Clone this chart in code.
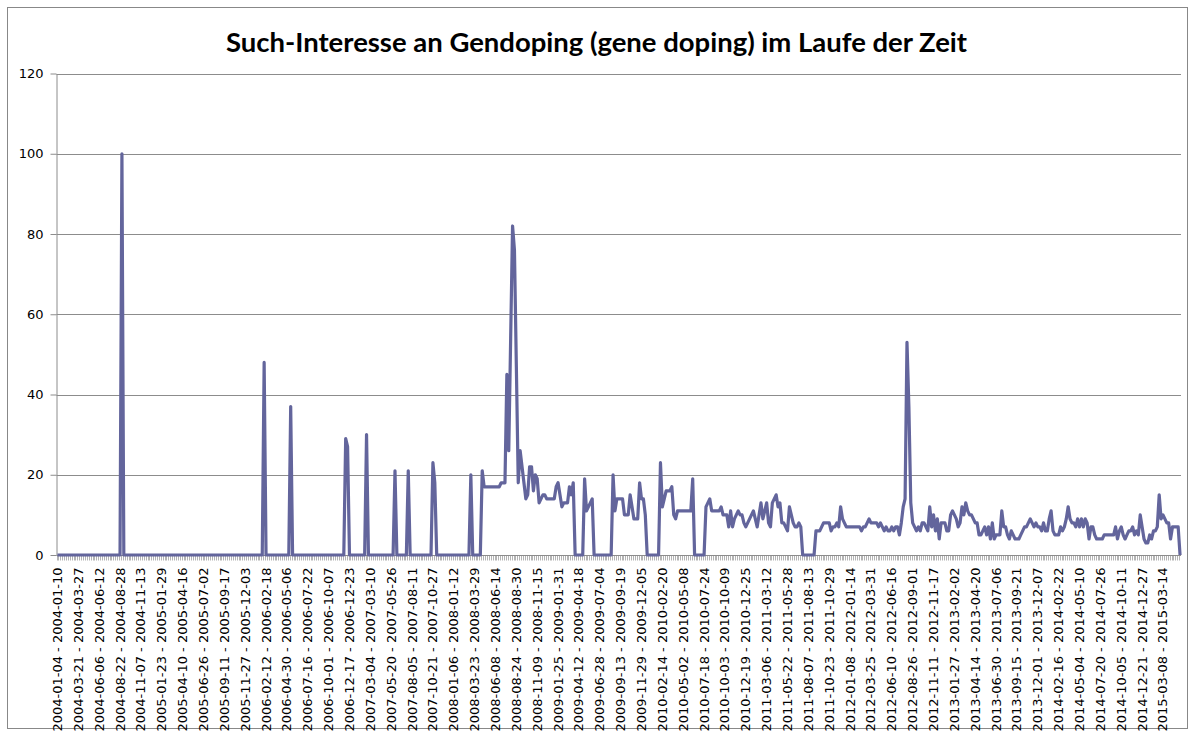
<!DOCTYPE html>
<html>
<head>
<meta charset="utf-8">
<script src="https://cdn.jsdelivr.net/npm/d3@7"></script>
<style>
	body { margin: 0; background: #fff; }
	svg { display: block; }
</style>
</head>
<body>
<div id="chart"></div>
<script>
const title = 'Such-Interesse an Gendoping (gene doping) im Laufe der Zeit'

// weekly search interest, first week starts 2004-01-04
const values = [
	0, 0, 0, 0, 0, 0, 0, 0, 0, 0,
	0, 0, 0, 0, 0, 0, 0, 0, 0, 0,
	0, 0, 0, 0, 0, 0, 0, 0, 0, 0,
	0, 0, 0, 0, 100, 0, 0, 0, 0, 0,
	0, 0, 0, 0, 0, 0, 0, 0, 0, 0,
	0, 0, 0, 0, 0, 0, 0, 0, 0, 0,
	0, 0, 0, 0, 0, 0, 0, 0, 0, 0,
	0, 0, 0, 0, 0, 0, 0, 0, 0, 0,
	0, 0, 0, 0, 0, 0, 0, 0, 0, 0,
	0, 0, 0, 0, 0, 0, 0, 0, 0, 0,
	0, 0, 0, 0, 0, 0, 0, 0, 0, 48,
	0, 0, 0, 0, 0, 0, 0, 0, 0, 0,
	0, 0, 0, 37, 0, 0, 0, 0, 0, 0,
	0, 0, 0, 0, 0, 0, 0, 0, 0, 0,
	0, 0, 0, 0, 0, 0, 0, 0, 0, 0,
	0, 0, 29, 27, 0, 0, 0, 0, 0, 0,
	0, 0, 0, 30, 0, 0, 0, 0, 0, 0,
	0, 0, 0, 0, 0, 0, 0, 0, 21, 0,
	0, 0, 0, 0, 0, 21, 0, 0, 0, 0,
	0, 0, 0, 0, 0, 0, 0, 0, 23, 18,
	0, 0, 0, 0, 0, 0, 0, 0, 0, 0,
	0, 0, 0, 0, 0, 0, 0, 0, 20, 0,
	0, 0, 0, 0, 21, 17, 17, 17, 17, 17,
	17, 17, 17, 17, 18, 18, 18, 45, 26, 54,
	82, 76, 47, 18, 26, 22, 18, 14, 15, 22,
	22, 16, 20, 19, 13, 14, 15, 15, 14, 14,
	14, 14, 14, 17, 18, 15, 12, 13, 13, 13,
	17, 15, 18, 0, 0, 0, 0, 0, 19, 11,
	12, 13, 14, 0, 0, 0, 0, 0, 0, 0,
	0, 0, 0, 20, 11, 14, 14, 14, 14, 10,
	10, 10, 15, 12, 9, 9, 9, 18, 14, 14,
	10, 0, 0, 0, 0, 0, 0, 0, 23, 12,
	14, 16, 16, 16, 17, 10, 9, 11, 11, 11,
	11, 11, 11, 11, 11, 19, 0, 0, 0, 0,
	0, 0, 12, 13, 14, 11, 11, 11, 11, 11,
	12, 10, 10, 10, 7, 11, 7, 9, 10, 11,
	10, 10, 8, 7, 8, 9, 10, 11, 9, 7,
	10, 13, 9, 11, 13, 8, 7, 13, 14, 15,
	12, 13, 8, 8, 7, 6, 12, 10, 8, 7,
	7, 8, 7, 0, 0, 0, 0, 0, 0, 0,
	6, 6, 6, 7, 8, 8, 8, 8, 6, 7,
	7, 8, 7, 12, 9, 8, 7, 7, 7, 7,
	7, 7, 7, 7, 6, 7, 7, 8, 9, 8,
	8, 8, 8, 7, 8, 7, 6, 7, 6, 6,
	7, 6, 7, 7, 5, 8, 12, 14, 53, 37,
	13, 8, 7, 6, 7, 6, 8, 8, 7, 6,
	12, 7, 10, 6, 9, 4, 8, 8, 8, 6,
	6, 10, 11, 10, 9, 7, 8, 12, 10, 13,
	11, 10, 10, 9, 8, 8, 5, 5, 6, 7,
	5, 7, 4, 8, 4, 5, 5, 5, 11, 7,
	7, 5, 4, 6, 5, 4, 4, 4, 5, 6,
	7, 7, 8, 9, 8, 7, 8, 7, 7, 6,
	8, 6, 6, 9, 11, 6, 5, 5, 5, 7,
	6, 7, 9, 12, 9, 8, 8, 7, 9, 7,
	9, 7, 9, 8, 4, 7, 7, 5, 4, 4,
	4, 4, 5, 5, 5, 5, 5, 5, 7, 4,
	6, 7, 5, 4, 5, 6, 6, 7, 5, 6,
	5, 10, 7, 4, 3, 3, 5, 4, 6, 6,
	7, 15, 9, 10, 9, 8, 8, 4, 7, 7,
	7, 7, 0
]

const yTicks = [0, 20, 40, 60, 80, 100, 120]

// labelled weeks on the category axis
const tickLabels = [
	'2004-01-04 - 2004-01-10', '2004-03-21 - 2004-03-27', '2004-06-06 - 2004-06-12',
	'2004-08-22 - 2004-08-28', '2004-11-07 - 2004-11-13', '2005-01-23 - 2005-01-29',
	'2005-04-10 - 2005-04-16', '2005-06-26 - 2005-07-02', '2005-09-11 - 2005-09-17',
	'2005-11-27 - 2005-12-03', '2006-02-12 - 2006-02-18', '2006-04-30 - 2006-05-06',
	'2006-07-16 - 2006-07-22', '2006-10-01 - 2006-10-07', '2006-12-17 - 2006-12-23',
	'2007-03-04 - 2007-03-10', '2007-05-20 - 2007-05-26', '2007-08-05 - 2007-08-11',
	'2007-10-21 - 2007-10-27', '2008-01-06 - 2008-01-12', '2008-03-23 - 2008-03-29',
	'2008-06-08 - 2008-06-14', '2008-08-24 - 2008-08-30', '2008-11-09 - 2008-11-15',
	'2009-01-25 - 2009-01-31', '2009-04-12 - 2009-04-18', '2009-06-28 - 2009-07-04',
	'2009-09-13 - 2009-09-19', '2009-11-29 - 2009-12-05', '2010-02-14 - 2010-02-20',
	'2010-05-02 - 2010-05-08', '2010-07-18 - 2010-07-24', '2010-10-03 - 2010-10-09',
	'2010-12-19 - 2010-12-25', '2011-03-06 - 2011-03-12', '2011-05-22 - 2011-05-28',
	'2011-08-07 - 2011-08-13', '2011-10-23 - 2011-10-29', '2012-01-08 - 2012-01-14',
	'2012-03-25 - 2012-03-31', '2012-06-10 - 2012-06-16', '2012-08-26 - 2012-09-01',
	'2012-11-11 - 2012-11-17', '2013-01-27 - 2013-02-02', '2013-04-14 - 2013-04-20',
	'2013-06-30 - 2013-07-06', '2013-09-15 - 2013-09-21', '2013-12-01 - 2013-12-07',
	'2014-02-16 - 2014-02-22', '2014-05-04 - 2014-05-10', '2014-07-20 - 2014-07-26',
	'2014-10-05 - 2014-10-11', '2014-12-21 - 2014-12-27', '2015-03-08 - 2015-03-14'
]

// one category per week, named like the google trends export
const fmt = d3.utcFormat('%Y-%m-%d')
const firstWeek = new Date(Date.UTC(2004, 0, 4))
const categories = values.map((v, i) => {
	const from = d3.utcWeek.offset(firstWeek, i)
	return `${fmt(from)} - ${fmt(d3.utcDay.offset(from, 6))}`
})

const width = 1194
const height = 731
const margin = { top: 73.5, right: 13, bottom: 176, left: 56.5 }

const svg = d3
	.select('#chart')
	.append('svg')
	.attr('width', width)
	.attr('height', height)

// outer frame
svg
	.append('rect')
	.attr('x', 7.5)
	.attr('y', 7.5)
	.attr('width', 1180)
	.attr('height', 721)
	.attr('fill', '#fff')
	.attr('stroke', '#888')

svg
	.append('text')
	.attr('x', 596.5)
	.attr('y', 52)
	.attr('text-anchor', 'middle')
	.attr('textLength', 741)
	.attr('lengthAdjust', 'spacingAndGlyphs')
	.style('font-family', 'Lato, "Open Sans", sans-serif')
	.style('font-weight', 'bold')
	.style('font-size', '27px')
	.style('fill', '#000')
	.text(title)

const x = d3
	.scaleBand()
	.domain(categories)
	.range([margin.left, width - margin.right])

const y = d3
	.scaleLinear()
	.domain([0, 120])
	.range([height - margin.bottom, margin.top])

const cx = c => x(c) + x.bandwidth() / 2

// horizontal gridlines
svg
	.append('g')
	.selectAll('line')
	.data(yTicks.filter(d => d > 0))
	.enter()
	.append('line')
	.attr('x1', margin.left)
	.attr('x2', width - margin.right)
	.attr('y1', d => Math.round(y(d)) + 0.5)
	.attr('y2', d => Math.round(y(d)) + 0.5)
	.attr('stroke', '#8c8c8c')

// value axis
const yAxis = svg
	.append('g')
	.attr('transform', `translate(${margin.left},0)`)
	.call(
		d3
			.axisLeft(y)
			.tickValues(yTicks)
			.tickSize(6)
			.tickPadding(7)
			.tickSizeOuter(0)
	)

yAxis.selectAll('line, path').attr('stroke', '#8c8c8c')
yAxis
	.selectAll('text')
	.style('font-family', '"DejaVu Sans", sans-serif')
	.style('font-size', '13px')
	.style('fill', '#000')

// category axis: a tick between every week, a label every 11th week
const base = Math.round(y(0)) + 0.5

svg
	.append('g')
	.selectAll('line')
	.data(categories)
	.enter()
	.append('line')
	.attr('x1', d => Math.round(x(d)) + 0.5)
	.attr('x2', d => Math.round(x(d)) + 0.5)
	.attr('y1', base)
	.attr('y2', base + 5)
	.attr('stroke', '#b4b4b4')

svg
	.append('line')
	.attr('x1', margin.left)
	.attr('x2', width - margin.right)
	.attr('y1', base)
	.attr('y2', base)
	.attr('stroke', '#8c8c8c')

svg
	.append('g')
	.selectAll('text')
	.data(tickLabels)
	.enter()
	.append('text')
	.attr('transform', d => `translate(${cx(d) + 4.5},${base + 12}) rotate(-90)`)
	.attr('text-anchor', 'end')
	.style('font-family', '"DejaVu Sans", sans-serif')
	.style('font-size', '13px')
	.style('fill', '#000')
	.text(d => d)

// the series
const line = d3
	.line()
	.x((d, i) => cx(categories[i]))
	.y(d => y(d))

svg
	.append('path')
	.datum(values)
	.attr('d', line)
	.attr('fill', 'none')
	.attr('stroke', '#63659c')
	.attr('stroke-width', 3.2)
	.attr('stroke-linejoin', 'round')
</script>
</body>
</html>
